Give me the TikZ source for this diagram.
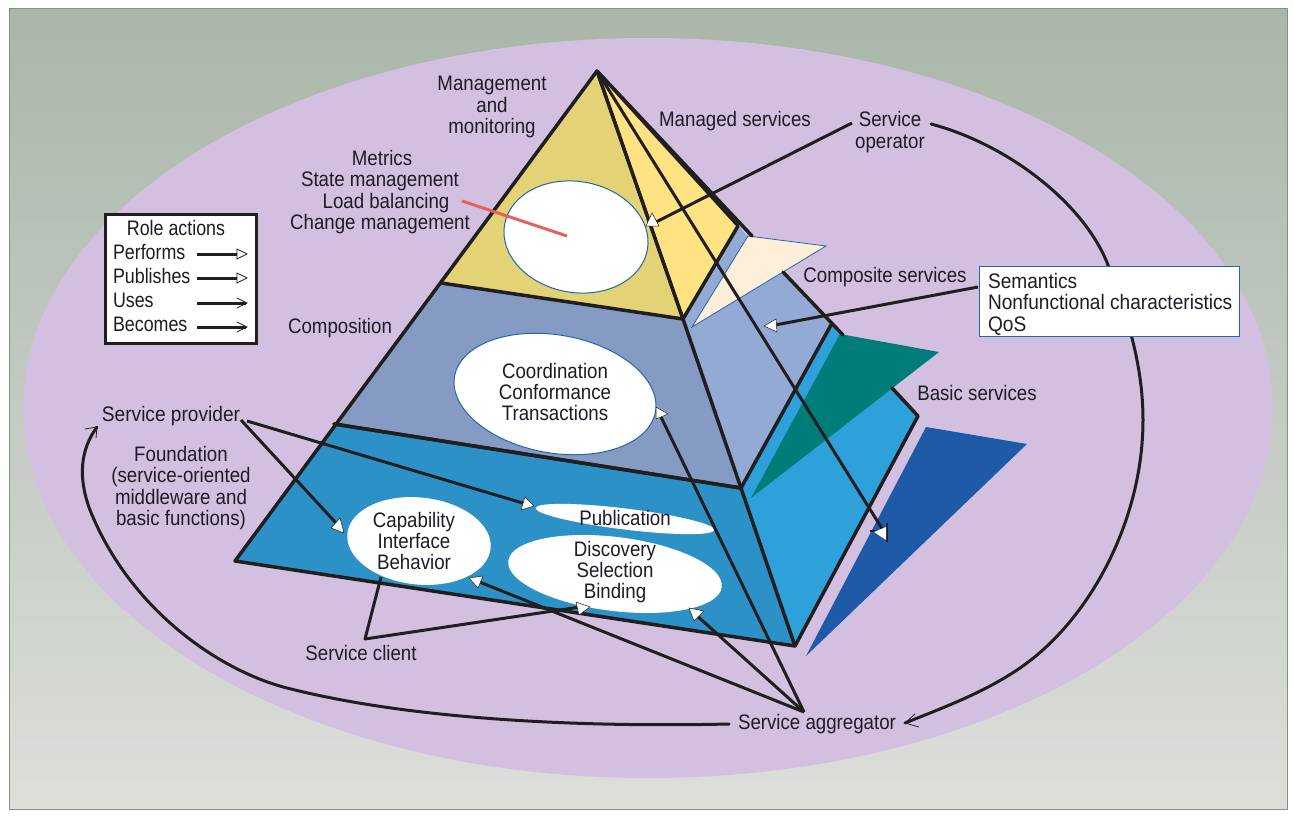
\documentclass[tikz,border=0pt]{standalone}
\usepackage{fontspec}
\setmainfont{Liberation Sans}[FakeStretch=0.89]
\newfontfamily\widerf{Liberation Sans}[FakeStretch=0.91]
\newfontfamily\narrowf{Liberation Sans}[FakeStretch=0.85]
\usetikzlibrary{shapes.geometric}
\definecolor{ink}{RGB}{32,26,40}
\definecolor{line}{RGB}{32,30,30}
\definecolor{bgtop}{RGB}{170,182,170}
\definecolor{bgbot}{RGB}{220,222,218}
\definecolor{lilac}{RGB}{211,192,224}
\definecolor{edgeblue}{RGB}{30,105,165}
\definecolor{ochre}{RGB}{228,210,118}
\definecolor{yellowf}{RGB}{255,226,130}
\definecolor{midl}{RGB}{133,155,196}
\definecolor{midr}{RGB}{146,170,212}
\definecolor{botl}{RGB}{43,145,199}
\definecolor{botr}{RGB}{46,160,218}
\definecolor{creamf}{RGB}{253,238,217}
\definecolor{tealf}{RGB}{0,125,120}
\definecolor{darkb}{RGB}{30,90,168}
\definecolor{redl}{RGB}{232,95,85}
\tikzset{
  x=1pt,y=-1pt,
  lab/.style={inner sep=0pt,outer sep=0pt,text=ink,font=\fontsize{21}{21.4}\selectfont,align=center},
  labb/.style={lab,anchor=base},
  labl/.style={lab,anchor=base west,align=left},
  blob/.style={ellipse,draw=edgeblue,line width=1pt,fill=white,inner sep=0pt,outer sep=0pt},
  thick edge/.style={draw=line,line width=3.5pt,line cap=round,line join=round},
  lead/.style={draw=line,line width=3pt,line join=round},
  curve/.style={draw=line,line width=3pt,line join=round,line cap=round},
  tipw/.style={fill=white,draw=line,line width=0.5pt,line join=miter},
  tri/.style={draw=edgeblue,line width=0.8pt},
  thinv/.style={draw=line,line width=0.8pt}
}
\begin{document}
\begin{tikzpicture}
\useasboundingbox (0,0) rectangle (1294,816);
\fill[white] (0,0) rectangle (1294,816);
\shade[top color=bgtop,bottom color=bgbot,draw=none] (9,9) rectangle (1287,809);
\draw[color=black!45,line width=1pt] (9,9) rectangle (1287,809);
\fill[lilac] (648,408) ellipse [x radius=625,y radius=370];

% pyramid corners
\coordinate (apex) at (597,71);
\coordinate (lt) at (441,283);
\coordinate (lm) at (334,424);
\coordinate (lb) at (235,561);
\coordinate (ft) at (683,319);
\coordinate (fm) at (741,488);
\coordinate (fb) at (795,646);
\coordinate (rt) at (738,226);
\coordinate (rm) at (831,325);
\coordinate (rb) at (918,416);

\fill[ochre] (apex)--(lt)--(ft)--cycle;
\fill[yellowf] (apex)--(rt)--(ft)--cycle;
\fill[midl] (lt)--(ft)--(fm)--(lm)--cycle;
\fill[midr] (rt)--(rm)--(fm)--(ft)--cycle;
\fill[botl] (lm)--(fm)--(fb)--(lb)--cycle;
\fill[botr] (rm)--(rb)--(fb)--(fm)--cycle;

% exploded triangles
\filldraw[tri,fill=creamf] (748,236)--(826,246)--(692,327)--cycle;
\fill[tealf] (840,334)--(939,352)--(751,498)--cycle;
\fill[darkb] (926,427)--(1027,444)--(806,656)--cycle;

% pyramid edges
\coordinate (rtx) at (752,236);
\coordinate (e1) at (783,272);
\coordinate (e2) at (843,335);
\coordinate (e3) at (892,388);
\path[thick edge] (apex)--(lb);
\path[thick edge] (apex)--(ft)--(fm)--(fb)--(rb)--(e3);
\path[thick edge] (apex)--(rtx);
\path[thick edge] (e1)--(e2);
\path[thick edge] (lt)--(ft)--(rt);
\path[thick edge] (lm)--(fm)--(rm);
\path[thick edge] (lb)--(fb);

% white areas
\node[blob,minimum width=145pt,minimum height=111pt,rotate=-10] (mgmt) at (576,237) {};
\node[blob,minimum width=204pt,minimum height=118pt,rotate=-10] (coord) at (555,394) {};
\node[blob,minimum width=144pt,minimum height=87pt,rotate=-6,draw=none] (capa) at (419,541) {};
\node[blob,minimum width=180pt,minimum height=21pt,rotate=-7,draw=none] (publ) at (625,519) {};
\node[blob,minimum width=215pt,minimum height=74pt,rotate=-7,draw=none] (disc) at (615,574) {};
\draw[color=redl,line width=3pt] (462,201)--(567,236);

% re-draw the ridge and base edges crossing the ellipses
\path[lead] (apex)--(ft);
\path[thick edge] (lm)--(fm);

% labels
\node[lab] (t1) at (492,107) {Management\\and\\monitoring};
\node[lab] (t2) at (735,121) {Managed services};
\node[lab] (sop) at (890,132) {Service\\operator};
\node[labb] (t3a) at (382,165) {Metrics};
\node[labb] (t3b) at (380,186) {State management};
\node[labb] (t3c) at (386,208) {Load balancing};
\node[labb] (t3d) at (380,229) {Change management};
\node[lab] (t4) at (340,328) {Composition};
\node[lab] (t5) at (885,277) {Composite services};
\node[lab] (t6) at (977,393) {Basic services};
\node[lab] (spr) at (171,416) {\widerf Service provider};
\node[lab] (t7) at (181,488) {Foundation\\(service-oriented\\middleware and\\basic functions)};
\node[lab] (t8) at (414,541) {Capability\\Interface\\Behavior};
\node[lab] (t9) at (625,518) {Publication};
\node[lab] (t10) at (615,572) {Discovery\\Selection\\Binding};
\node[lab] (t11) at (555,392) {Coordination\\Conformance\\Transactions};
\node[lab] (scl) at (361,653) {Service client};
\node[lab] (sag) at (817,724) {Service aggregator};

% connectors
\coordinate (apexb) at (597,71);
\coordinate (opEnd) at (886,535);
\path[lead] (apexb)--(opEnd);
\path[lead] (apexb)--(rt);

\coordinate (opS) at (852,123);
\coordinate (opT) at (656,222);
\path[lead] (opS)--(opT);
\filldraw[tipw] (652,213)--(646,226)--(659,226)--cycle;

\coordinate (boxL) at (978,287);
\coordinate (compT) at (775,325);
\path[lead] (boxL)--(compT);
\filldraw[tipw] (764,326)--(776,319)--(777,332)--cycle;

\coordinate (agg) at (804,712);
\coordinate (coT) at (661,417);
\coordinate (caT) at (477,581);
\coordinate (diT) at (695,614);
\path[lead] (agg)--(coT);
\path[lead] (agg)--(caT);
\path[lead] (agg)--(diT);
\filldraw[tipw] (656,407)--(668,414)--(656,419)--cycle;
\filldraw[tipw] (469,578)--(483,576)--(478,588)--cycle;
\filldraw[tipw] (689,608)--(704,611)--(694,621)--cycle;

\coordinate (spA) at (241,420);
\coordinate (spB) at (247,421);
\coordinate (caP) at (336,523);
\coordinate (puP) at (526,504);
\path[lead] (spA)--(caP);
\path[lead] (spB)--(puP);
\filldraw[tipw] (340,518)--(331,528)--(344,533)--cycle;
\filldraw[tipw] (525,497)--(534,506)--(521,510)--cycle;

\coordinate (cliJ) at (365,639);
\coordinate (caC) at (381,577);
\coordinate (diC) at (580,607);
\path[lead] (caC)--(cliJ)--(diC);
\filldraw[tipw] (576,602)--(590,607)--(579,615)--cycle;

% arrowhead on the exploded layer
\draw[line width=2.8pt,color=line] (870,531)--(887,531);
\draw[line width=2.8pt,color=line] (887,523)--(887,542);
\fill[white] (874,532)--(886,527)--(886,540)--cycle;

% long curved connectors
\coordinate (agL) at (729,724);
\coordinate (prH) at (97,427);
\path[curve] (agL) .. controls (600,727) and (420,722) .. (287,688)
  .. controls (220,671) and (130,610) .. (90,510)
  .. controls (78,478) and (80,450) .. (prH);
\draw[thinv] (85,429)--(97,427)--(96,438);

\coordinate (sopR) at (931,124);
\coordinate (agH) at (905,723);
\path[curve] (sopR) .. controls (1010,145) and (1085,205) .. (1108,265)
  .. controls (1130,322) and (1143,370) .. (1143,420)
  .. controls (1143,520) and (1090,620) .. (1020,668)
  .. controls (985,692) and (945,707) .. (agH);
\draw[thinv] (915,714)--(905,723)--(919,727);

% attribute box
\node[draw=edgeblue,line width=1pt,fill=white,minimum width=260pt,minimum height=70pt,inner sep=0pt] (attr) at (1109,301) {};
\node[labl] (at1) at (988,288) {\widerf Semantics};
\node[labl] (at2) at (988,309) {\widerf Nonfunctional characteristics};
\node[labl] (at3) at (988,331) {\widerf QoS};

% legend
\node[draw=line,line width=3pt,fill=white,minimum width=151pt,minimum height=129pt,inner sep=0pt] (leg) at (181,279) {};
\node[labb] (lg0) at (176,235) {\narrowf Role actions};
\node[labl] (lg1) at (113,259) {\narrowf Performs};
\node[labl] (lg2) at (113,283) {\narrowf Publishes};
\node[labl] (lg3) at (113,307) {\narrowf Uses};
\node[labl] (lg4) at (113,331) {\narrowf Becomes};
\coordinate (a1) at (197,254); \coordinate (b1) at (238,254);
\coordinate (a2) at (197,278); \coordinate (b2) at (238,278);
\coordinate (a3) at (197,303); \coordinate (b3) at (246,303);
\coordinate (a4) at (197,327); \coordinate (b4) at (246,327);
\path[lead] (a1)--(b1);
\path[lead] (a2)--(b2);
\path[lead] (a3)--(b3);
\path[lead] (a4)--(b4);
\filldraw[fill=white,thinv] (237,249)--(247,254)--(237,259)--cycle;
\filldraw[fill=white,thinv] (237,273)--(247,278)--(237,283)--cycle;
\draw[thinv] (237,298)--(247,303)--(237,308);
\draw[thinv] (237,322)--(247,327)--(237,332);
\end{tikzpicture}
\end{document}
